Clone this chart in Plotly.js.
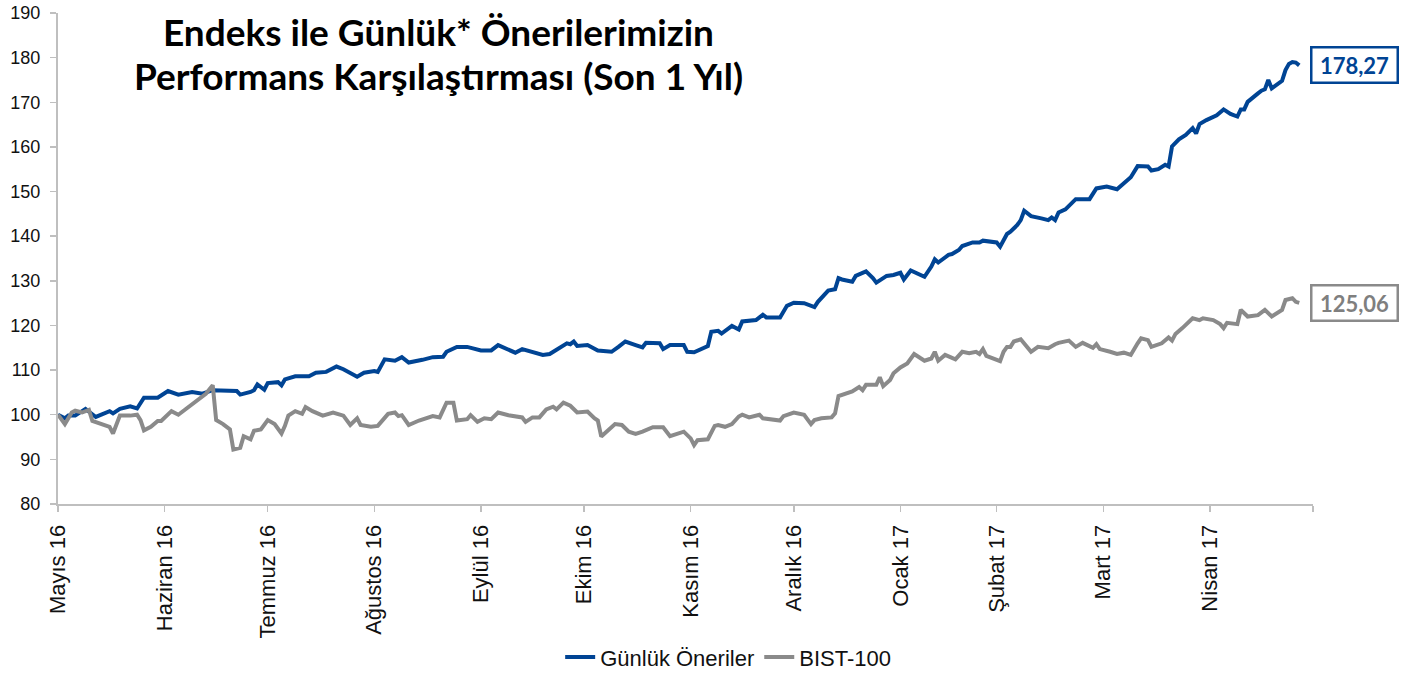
<!DOCTYPE html>
<html>
<head>
<meta charset="utf-8">
<script src="https://cdn.plot.ly/plotly-3.0.1.min.js"></script>
<style>
html,body{margin:0;padding:0;background:#fff;}
#chart{width:1413px;height:673px;}
</style>
</head>
<body>
<div id="chart"></div>
<script>
const seriesNames = ['Günlük Öneriler', 'BIST-100'];
const titleLines = ['Endeks ile Günlük* Önerilerimizin', 'Performans Karşılaştırması (Son 1 Yıl)'];

const onerilerDates = ['2016-05-01','2016-05-03','2016-05-04','2016-05-06','2016-05-09','2016-05-12','2016-05-16','2016-05-17','2016-05-19','2016-05-22','2016-05-24','2016-05-26','2016-05-30','2016-06-02','2016-06-05','2016-06-09','2016-06-12','2016-06-15','2016-06-22','2016-06-23','2016-06-26','2016-06-27','2016-06-28','2016-06-30','2016-07-01','2016-07-04','2016-07-05','2016-07-06','2016-07-09','2016-07-13','2016-07-15','2016-07-18','2016-07-21','2016-07-23','2016-07-27','2016-07-29','2016-08-01','2016-08-02','2016-08-04','2016-08-07','2016-08-09','2016-08-11','2016-08-15','2016-08-18','2016-08-21','2016-08-22','2016-08-25','2016-08-28','2016-09-01','2016-09-04','2016-09-06','2016-09-08','2016-09-11','2016-09-13','2016-09-16','2016-09-19','2016-09-21','2016-09-24','2016-09-26','2016-09-27','2016-09-28','2016-09-29','2016-10-02','2016-10-05','2016-10-09','2016-10-11','2016-10-13','2016-10-16','2016-10-18','2016-10-19','2016-10-23','2016-10-24','2016-10-26','2016-10-30','2016-10-31','2016-11-02','2016-11-06','2016-11-07','2016-11-09','2016-11-10','2016-11-13','2016-11-15','2016-11-16','2016-11-20','2016-11-22','2016-11-23','2016-11-27','2016-11-29','2016-12-01','2016-12-04','2016-12-07','2016-12-08','2016-12-10','2016-12-11','2016-12-13','2016-12-14','2016-12-15','2016-12-18','2016-12-19','2016-12-22','2016-12-24','2016-12-25','2016-12-28','2016-12-30','2017-01-01','2017-01-02','2017-01-04','2017-01-06','2017-01-08','2017-01-10','2017-01-11','2017-01-12','2017-01-15','2017-01-16','2017-01-18','2017-01-19','2017-01-22','2017-01-24','2017-01-25','2017-01-29','2017-01-30','2017-02-01','2017-02-02','2017-02-04','2017-02-05','2017-02-06','2017-02-08','2017-02-11','2017-02-13','2017-02-14','2017-02-15','2017-02-16','2017-02-18','2017-02-21','2017-02-25','2017-02-27','2017-03-02','2017-03-05','2017-03-07','2017-03-09','2017-03-11','2017-03-14','2017-03-15','2017-03-17','2017-03-19','2017-03-20','2017-03-21','2017-03-23','2017-03-25','2017-03-27','2017-03-28','2017-03-29','2017-03-31','2017-04-03','2017-04-05','2017-04-07','2017-04-09','2017-04-10','2017-04-11','2017-04-12','2017-04-15','2017-04-16','2017-04-17','2017-04-18','2017-04-19','2017-04-21','2017-04-22','2017-04-23','2017-04-24','2017-04-25','2017-04-26','2017-04-27'];
const onerilerValues = [100.0,99.2,99.8,99.8,101.3,99.5,100.8,100.3,101.3,101.9,101.4,103.8,103.8,105.3,104.5,105.1,104.7,105.5,105.3,104.5,105.1,105.5,106.8,105.6,107.1,107.3,106.6,107.9,108.6,108.6,109.4,109.6,110.8,110.2,108.5,109.4,109.8,109.6,112.4,112.1,112.9,111.7,112.3,112.9,113.0,114.1,115.2,115.2,114.4,114.4,115.6,114.9,113.9,114.7,114.1,113.4,113.6,115.1,116.0,115.8,116.4,115.4,115.6,114.4,114.1,115.2,116.4,115.6,115.1,116.1,116.0,114.7,115.6,115.6,114.1,114.0,115.4,118.6,118.8,118.2,119.9,119.1,120.9,121.2,122.4,121.8,121.8,124.4,125.1,125.0,124.1,125.3,126.8,127.8,128.1,130.6,130.3,129.8,131.1,132.1,130.6,129.6,131.1,131.3,131.8,130.3,132.3,131.7,130.9,133.2,134.8,134.1,135.8,136.0,136.9,137.8,138.6,138.6,139.0,138.6,137.65,140.5,141.0,142.5,143.6,145.7,144.5,144.0,143.6,144.2,143.6,145.3,146.0,148.3,148.3,150.7,151.1,150.5,152.0,153.2,155.7,155.6,154.7,155.0,156.0,155.6,160.1,161.7,162.7,164.2,163.0,165.1,166.0,167.1,168.4,167.4,166.8,168.4,168.4,170.1,172.0,172.6,172.9,175.0,173.1,174.1,174.8,177.2,178.6,179.0,178.9,178.27];

const bistDates = ['2016-05-01','2016-05-02','2016-05-03','2016-05-05','2016-05-06','2016-05-08','2016-05-10','2016-05-11','2016-05-13','2016-05-15','2016-05-16','2016-05-17','2016-05-19','2016-05-22','2016-05-24','2016-05-25','2016-05-26','2016-05-28','2016-05-30','2016-05-31','2016-06-03','2016-06-05','2016-06-08','2016-06-11','2016-06-13','2016-06-15','2016-06-16','2016-06-18','2016-06-20','2016-06-21','2016-06-23','2016-06-24','2016-06-26','2016-06-27','2016-06-29','2016-07-01','2016-07-03','2016-07-05','2016-07-06','2016-07-07','2016-07-09','2016-07-11','2016-07-12','2016-07-14','2016-07-17','2016-07-20','2016-07-23','2016-07-25','2016-07-27','2016-07-28','2016-07-31','2016-08-02','2016-08-05','2016-08-07','2016-08-08','2016-08-09','2016-08-11','2016-08-14','2016-08-18','2016-08-20','2016-08-22','2016-08-24','2016-08-25','2016-08-28','2016-08-29','2016-08-31','2016-09-02','2016-09-04','2016-09-06','2016-09-09','2016-09-13','2016-09-14','2016-09-16','2016-09-18','2016-09-20','2016-09-22','2016-09-23','2016-09-25','2016-09-27','2016-09-29','2016-10-02','2016-10-04','2016-10-05','2016-10-06','2016-10-08','2016-10-10','2016-10-12','2016-10-14','2016-10-16','2016-10-18','2016-10-21','2016-10-24','2016-10-26','2016-10-30','2016-11-01','2016-11-02','2016-11-03','2016-11-06','2016-11-08','2016-11-09','2016-11-11','2016-11-13','2016-11-15','2016-11-16','2016-11-18','2016-11-21','2016-11-22','2016-11-25','2016-11-27','2016-11-28','2016-12-01','2016-12-04','2016-12-06','2016-12-07','2016-12-09','2016-12-12','2016-12-13','2016-12-14','2016-12-16','2016-12-18','2016-12-20','2016-12-21','2016-12-22','2016-12-25','2016-12-26','2016-12-27','2016-12-29','2016-12-30','2017-01-01','2017-01-03','2017-01-05','2017-01-08','2017-01-10','2017-01-11','2017-01-12','2017-01-14','2017-01-17','2017-01-19','2017-01-21','2017-01-23','2017-01-24','2017-01-25','2017-01-26','2017-01-30','2017-01-31','2017-02-01','2017-02-02','2017-02-03','2017-02-05','2017-02-06','2017-02-08','2017-02-10','2017-02-13','2017-02-15','2017-02-16','2017-02-19','2017-02-21','2017-02-23','2017-02-26','2017-02-27','2017-02-28','2017-03-03','2017-03-05','2017-03-07','2017-03-09','2017-03-11','2017-03-12','2017-03-14','2017-03-15','2017-03-18','2017-03-20','2017-03-21','2017-03-22','2017-03-24','2017-03-27','2017-03-29','2017-03-30','2017-04-02','2017-04-04','2017-04-05','2017-04-06','2017-04-09','2017-04-10','2017-04-12','2017-04-15','2017-04-17','2017-04-19','2017-04-22','2017-04-23','2017-04-25','2017-04-26','2017-04-27'];
const bistValues = [100.0,99.0,97.9,100.5,100.9,100.5,101.1,98.6,98.0,97.5,97.3,95.8,99.8,99.8,100.0,98.8,96.5,97.3,98.6,98.6,100.8,100.0,101.7,103.3,104.7,106.6,98.8,97.9,96.7,92.2,92.6,95.2,94.5,96.4,96.7,98.8,97.9,95.8,97.5,99.8,100.8,100.2,101.7,100.8,99.8,100.5,99.8,97.7,99.2,97.7,97.3,97.5,100.2,100.5,99.7,99.9,97.7,98.7,99.7,99.4,102.7,102.7,98.7,99.0,99.9,98.4,99.2,99.0,100.5,99.9,99.4,98.4,99.4,99.4,101.2,101.8,101.2,102.7,102.0,100.5,100.7,99.2,98.7,95.1,96.6,97.9,97.7,96.2,95.7,96.2,97.2,97.2,95.2,96.2,94.7,93.2,94.3,94.5,97.5,97.7,97.3,97.9,99.6,100.0,99.4,100.0,99.2,98.8,98.7,99.7,100.5,100.0,97.9,98.8,99.2,99.4,100.3,104.2,104.8,105.2,106.2,105.5,106.7,106.7,108.4,106.4,107.8,109.3,110.6,111.5,113.6,112.1,112.6,114.1,112.1,113.4,112.4,114.1,113.8,114.1,113.6,114.7,113.2,112.0,114.1,115.2,115.2,116.4,116.9,116.0,114.1,115.2,114.9,115.8,116.1,116.6,115.2,116.1,115.0,115.8,114.7,114.1,113.6,113.9,113.4,116.0,117.1,116.7,115.2,116.0,117.3,116.6,118.1,119.4,121.6,121.2,121.6,121.2,120.3,119.4,120.6,120.3,123.5,122.0,122.3,123.5,122.0,123.5,125.7,126.1,125.3,125.06];

const tickDates = ['2016-05-01','2016-06-01','2016-07-01','2016-08-01','2016-09-01','2016-10-01','2016-11-01','2016-12-01','2017-01-01','2017-01-29','2017-03-01','2017-04-01','2017-05-01'];
const tickLabels = ['Mayıs 16','Haziran 16','Temmuz 16','Ağustos 16','Eylül 16','Ekim 16','Kasım 16','Aralık 16','Ocak 17','Şubat 17','Mart 17','Nisan 17',''];

const yTicks = [80,90,100,110,120,130,140,150,160,170,180,190];

const BLUE = '#004494';
const GRAY = '#8a8a8a';

function fmt(v){ return v.toFixed(2).replace('.', ','); }

const traces = [
  {x: onerilerDates, y: onerilerValues, name: seriesNames[0], type: 'scatter', mode: 'lines',
   line: {color: BLUE, width: 4}},
  {x: bistDates, y: bistValues, name: seriesNames[1], type: 'scatter', mode: 'lines',
   line: {color: GRAY, width: 4}}
];

const lastBlue = onerilerValues[onerilerValues.length-1];
const lastGray = bistValues[bistValues.length-1];

const titleFont = {family: 'Lato, Open Sans, sans-serif', size: 37, color: '#000', weight: 'bold'};
const titleX = (439 - 58) / 1255;

const layout = {
  width: 1413, height: 673,
  margin: {l: 58, r: 100, t: 13, b: 169, autoexpand: false},
  paper_bgcolor: '#fff', plot_bgcolor: '#fff',
  showlegend: true,
  xaxis: {
    type: 'date', range: ['2016-05-01', '2017-05-01'],
    tickmode: 'array', tickvals: tickDates, ticktext: tickLabels,
    tickangle: -90, ticks: 'outside', ticklen: 6, tickwidth: 1.5, tickcolor: '#bfbfbf',
    ticklabelstandoff: 4,
    showline: true, linecolor: '#bfbfbf', linewidth: 2,
    showgrid: false, zeroline: false, automargin: false,
    tickfont: {family: 'Liberation Sans, Arial, sans-serif', size: 22, color: '#111'},
    fixedrange: true
  },
  yaxis: {
    range: [80, 190], tickmode: 'array', tickvals: yTicks,
    ticks: 'outside', ticklen: 6, tickwidth: 1.5, tickcolor: '#bfbfbf',
    ticklabelstandoff: 6,
    showline: true, linecolor: '#bfbfbf', linewidth: 2,
    showgrid: false, zeroline: false, automargin: false,
    tickfont: {family: 'Liberation Sans, Arial, sans-serif', size: 18, color: '#111'},
    fixedrange: true
  },
  legend: {
    orientation: 'h', x: 0.534, xanchor: 'center', y: -0.312, yanchor: 'middle',
    font: {family: 'Liberation Sans, Arial, sans-serif', size: 22, color: '#111'},
    bgcolor: 'rgba(0,0,0,0)'
  },
  annotations: [
    {xref: 'paper', yref: 'paper', x: titleX, y: (504 - 32) / 491, xanchor: 'center', yanchor: 'middle',
     text: titleLines[0], showarrow: false, font: titleFont},
    {xref: 'paper', yref: 'paper', x: titleX, y: (504 - 75) / 491, xanchor: 'center', yanchor: 'middle',
     text: titleLines[1], showarrow: false, font: titleFont},
    {xref: 'paper', yref: 'y', x: 1, y: lastBlue, xanchor: 'left', yanchor: 'middle', xshift: -3,
     text: '<b>' + fmt(lastBlue) + '</b>', showarrow: false,
     font: {family: 'Lato, Open Sans, sans-serif', size: 22, color: BLUE},
     bordercolor: BLUE, borderwidth: 2.5, borderpad: 1, bgcolor: '#fff', width: 82, height: 31},
    {xref: 'paper', yref: 'y', x: 1, y: lastGray, xanchor: 'left', yanchor: 'middle', xshift: -3,
     text: '<b>' + fmt(lastGray) + '</b>', showarrow: false,
     font: {family: 'Lato, Open Sans, sans-serif', size: 22, color: '#7f7f7f'},
     bordercolor: '#8a8a8a', borderwidth: 2.5, borderpad: 1, bgcolor: '#fff', width: 82, height: 31}
  ]
};

Plotly.newPlot('chart', traces, layout, {displayModeBar: false, staticPlot: true});
</script>
</body>
</html>
